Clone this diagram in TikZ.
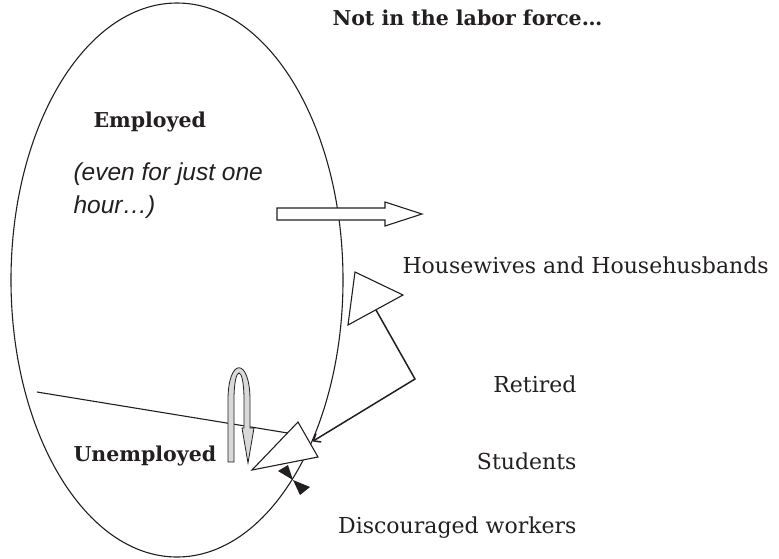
\documentclass[tikz,border=0pt]{standalone}
\usepackage{fontspec}
\setmainfont{DejaVu Serif}
\newfontfamily\notesans{Liberation Sans}
\usetikzlibrary{shapes.geometric,arrows.meta}
\definecolor{ink}{HTML}{231F20}

\begin{document}
\begin{tikzpicture}
  [x=1pt,y=-1pt,line width=1.1pt,draw=ink,
   every node/.style={inner sep=0pt,text=ink},
   head/.style={anchor=base west,font=\fontsize{20.5}{24}\selectfont\bfseries},
   group/.style={font=\fontsize{22}{26}\selectfont},
   note/.style={anchor=base west,font=\notesans\itshape\fontsize{24.5}{30}\selectfont}]
  \useasboundingbox (0,0) rectangle (779,558);

  % the labor force
  \node[draw,ellipse,minimum width=332pt,minimum height=554pt] (labor) at (177,280) {};

  \node[head] (nilf) at (332,25) {Not in the labor force\dots};
  \node[head] (emp) at (93,127) {Employed};
  \node[note] (hour1) at (73,180) {(even for just one};
  \node[note] (hour2) at (73,213) {hour\dots)};
  \node[head] (unemp) at (73,461) {Unemployed};

  \node[group,anchor=base west] (house) at (402,273) {Housewives and Househusbands};
  \node[group,anchor=base east] (ret) at (577,392) {Retired};
  \node[group,anchor=base east] (stud) at (577,469) {Students};
  \node[group,anchor=base east] (disc) at (577,533) {Discouraged workers};

  % leaving employment
  \draw[fill=white] (277,208) -- (385,208) -- (385,202) -- (422,214)
    -- (385,226) -- (385,220) -- (277,220) -- cycle;

  % housewives / retired link
  \coordinate (hwtip) at (403,295);
  \coordinate (hwtop) at (355,272);
  \coordinate (hwlow) at (348,325);
  \coordinate (hwmid) at (376,310);
  \coordinate (bend) at (415,379);
  \draw[line width=1.5pt,-{Straight Barb[length=6pt,width=10pt]}] (hwmid) -- (bend) -- (labor.-50);
  \draw[fill=white] (hwtop) -- (hwtip) -- (hwlow) -- cycle;

  % unemployed line and big head
  \coordinate (unstart) at (37,392);
  \coordinate (unend) at (300,435);
  \draw (unstart) -- (unend);
  \coordinate (ut1) at (298,422);
  \coordinate (ut2) at (318,457);
  \coordinate (ut3) at (252,470);
  \draw[fill=white] (ut1) -- (ut2) -- (ut3) -- cycle;

  % bow tie on the border
  \fill[ink] (278,471) -- (288,465) -- (293,480) -- cycle;
  \fill[ink] (293,480) -- (300,495) -- (310,487) -- cycle;

  % u-turn arrow
  \draw[line width=0.8pt,fill=gray!30] (228,462) -- (228,400)
    .. controls (228,357) and (250,357) .. (250,400) -- (250,428)
    -- (254,428) -- (248,463) -- (242,428) -- (244,428) -- (244,400)
    .. controls (244,364) and (234,364) .. (234,400) -- (234,462) -- cycle;
\end{tikzpicture}
\end{document}
